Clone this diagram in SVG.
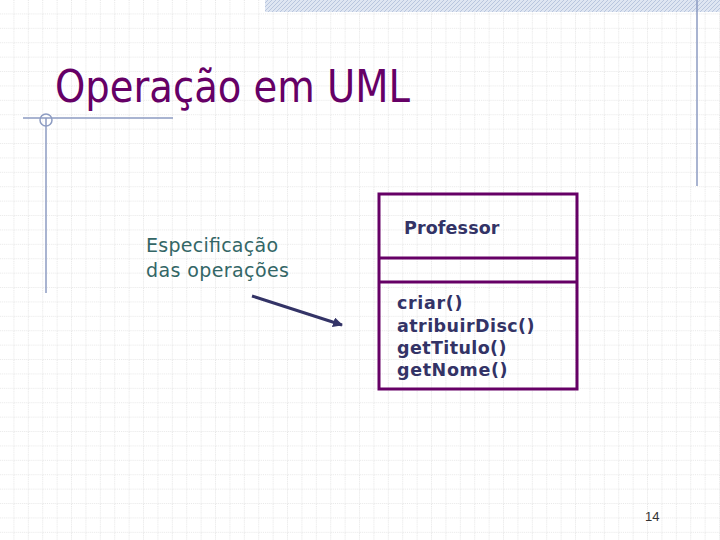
<svg xmlns="http://www.w3.org/2000/svg" width="720" height="540" viewBox="0 0 720 540">
<defs>
<pattern id="grid" width="14.4" height="14.4" patternUnits="userSpaceOnUse">
<path d="M14.4 0V14.4H0" fill="none" stroke="#cfcfcf" stroke-width="1" stroke-dasharray="1,1"/>
</pattern>
<pattern id="hatch" width="4" height="4" patternUnits="userSpaceOnUse">
<rect width="4" height="4" fill="#dfe6f2"/><path d="M0 4L4 0" stroke="#b9c6de" stroke-width="1"/>
</pattern>
<marker id="arr" markerWidth="10" markerHeight="10" refX="9" refY="5" orient="auto" markerUnits="userSpaceOnUse">
<path d="M0 0L10 5L0 10z" fill="#333366"/>
</marker>
<style>
.m{font-family:"DejaVu Sans",sans-serif;font-weight:bold;font-size:17.5px;fill:#333366;letter-spacing:0.5px}
.lab{font-family:"DejaVu Sans",sans-serif;font-size:19px;fill:#336666}
.deco{stroke:#8d9cc2;stroke-width:1.5;fill:none}
</style>
</defs>
<rect width="720" height="540" fill="#fff"/>
<rect width="720" height="540" fill="url(#grid)"/>
<rect x="265" y="0" width="455" height="12" fill="url(#hatch)"/>
<g id="deco">
<path class="deco" d="M23 118H173M46 118V293M697 0V186"/>
<circle class="deco" cx="46" cy="120" r="6"/>
</g>
<text x="55" y="102" font-family="DejaVu Sans Condensed,DejaVu Sans,sans-serif" font-size="44" fill="#660066" textLength="355" lengthAdjust="spacingAndGlyphs">Operação em UML</text>
<g id="label">
<text class="lab" x="146" y="252" textLength="132">Especificação</text>
<text class="lab" x="146" y="277" textLength="143">das operações</text>
</g>
<g id="connectors">
<line x1="252" y1="296" x2="342" y2="325" stroke="#333366" stroke-width="3" marker-end="url(#arr)"/>
</g>
<g id="professor">
<rect x="379" y="194" width="198" height="195" fill="none" stroke="#660066" stroke-width="3"/>
<line x1="379" y1="258" x2="577" y2="258" stroke="#660066" stroke-width="3"/>
<line x1="379" y1="282" x2="577" y2="282" stroke="#660066" stroke-width="3"/>
<text class="m" x="404" y="234" textLength="96">Professor</text>
<text class="m" x="397" y="309" textLength="66">criar()</text>
<text class="m" x="397" y="332" textLength="138">atribuirDisc()</text>
<text class="m" x="397" y="354" textLength="110">getTitulo()</text>
<text class="m" x="397" y="376" textLength="111">getNome()</text>
</g>
<text x="645" y="521" font-family="Liberation Sans,sans-serif" font-size="13" fill="#333">14</text>
</svg>
